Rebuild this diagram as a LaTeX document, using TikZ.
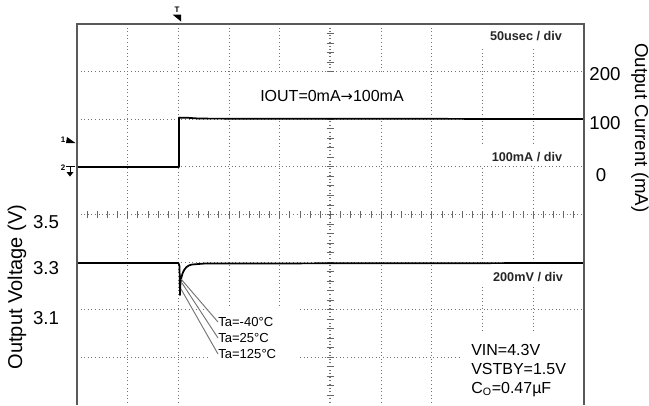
\documentclass[tikz,border=0pt]{standalone}
\usepackage{fontspec}
\setmainfont{Liberation Sans}
\newfontfamily\arrowfont{DejaVu Sans}
\usetikzlibrary{positioning}

\begin{document}
\begin{tikzpicture}[
    x=0.75pt, y=-0.75pt,
    frame/.style={draw=black!65, line width=1.2pt},
    gridline/.style={black!55, line width=0.8pt, dash pattern=on 0.8pt off 1.9pt},
    tickmark/.style={black!60, line width=0.7pt},
    trace/.style={black, line width=1.3pt, line join=round},
    callout/.style={black!55, line width=0.7pt},
    mask/.style={fill=white},
    scalelbl/.style={font=\fontsize{9.5}{11}\selectfont\bfseries, text=black!85, inner sep=0pt},
    axislbl/.style={font=\fontsize{14}{16}\selectfont, inner sep=0pt},
    talbl/.style={font=\fontsize{9.8}{11}\selectfont, anchor=west, inner sep=0pt},
    condlbl/.style={font=\fontsize{12}{14}\selectfont, anchor=base west, inner sep=0pt},
    marker/.style={font=\fontsize{6}{6}\selectfont\bfseries, inner sep=0pt}
  ]
  \useasboundingbox (0,0) rectangle (649,405);

  % grid
  \foreach \i in {1,2,3,4,6,7,8,9}
    \draw[gridline] (77+\i*50.7,24) -- (77+\i*50.7,405);
  \foreach \j in {1,2,3,5,6,7}
    \draw[gridline] (77,24+\j*47.625) -- (584,24+\j*47.625);

  % centre axes with minor ticks
  \draw[gridline] (330,24) -- (330,405);
  \draw[gridline] (77,214.5) -- (584,214.5);
  \foreach \k in {1,...,49}
    \draw[tickmark] (77+\k*10.14,211) -- ++(0,7);
  \foreach \k in {1,...,39}
    \draw[tickmark] (326.5,24+\k*9.525) -- ++(7,0);

  % label backgrounds
  \fill[mask] (468,25) rectangle (583,47);
  \fill[mask] (250,73) rectangle (412,117);
  \fill[mask] (470,145) rectangle (583,165.5);
  \fill[mask] (470,264.5) rectangle (583,285);
  \fill[mask] (460,332) rectangle (583,405);
  \fill[mask] (208,306) rectangle (300,405);

  % traces
  \draw[trace] (77,167) -- (179,167) -- (179,117.6) -- (188,117.8) -- (200,118.6) -- (584,119);
  \draw[trace] (77,263) -- (178.5,263) -- (179.5,266) -- (180,295)
    .. controls (180,276) and (183,266) .. (192,264.5) -- (205,263.5) -- (584,263);

  % frame
  \draw[frame] (77,405) -- (77,24) -- (584,24) -- (584,405);

  % markers
  \node[marker] (trig) at (177,10) {T};
  \fill (172.5,14.5) -- (181,14.5) -- (181,21.5) -- cycle;
  \node[marker] (ch1) at (63,139.5) {1};
  \fill (67,137) -- (75.5,143) -- (66,143) -- cycle;
  \node[marker] (ch2) at (63,168) {2};
  \draw[line width=0.7pt] (66,166) -- (75,166) (70,166) -- (70,172);
  \fill (66.5,172) -- (73.5,172) -- (70,176.5) -- cycle;

  % scale texts
  \node[scalelbl] (tbase) at (526,36) {50usec / div};
  \node[scalelbl] (ibase) at (527,157) {100mA / div};
  \node[scalelbl] (vbase) at (528,277) {200mV / div};
  \node[font=\fontsize{12}{14}\selectfont, inner sep=0pt] (iout) at (332,96)
    {IOUT=0mA{\arrowfont\fontsize{11}{14}\selectfont→}100mA};

  % current axis
  \node[axislbl] (i200) at (605,74) {200};
  \node[axislbl] (i100) at (605,123) {100};
  \node[axislbl] (i0) at (601,175) {0};
  \node[axislbl, rotate=-90] (ititle) at (640,128) {Output Current (mA)};

  % voltage axis
  \node[axislbl] (v35) at (46,222) {3.5};
  \node[axislbl] (v33) at (46,268) {3.3};
  \node[axislbl] (v31) at (46,318) {3.1};
  \node[axislbl, font=\fontsize{15}{17}\selectfont, rotate=90] (vtitle) at (17,287) {Output Voltage (V)};

  % temperature callouts
  \node[talbl] (ta1) at (218,322) {Ta=-40°C};
  \node[talbl] (ta2) at (218,338) {Ta=25°C};
  \node[talbl] (ta3) at (218,354) {Ta=125°C};
  \coordinate (dip1) at (181,279);
  \coordinate (dip2) at (182,283);
  \coordinate (dip3) at (181,289);
  \draw[callout] (dip1) -- (ta1.west);
  \draw[callout] (dip2) -- (ta2.west);
  \draw[callout] (dip3) -- (ta3.west);

  % conditions
  \node[condlbl] (vin) at (471,355) {VIN=4.3V};
  \node[condlbl] (vstby) at (471,374) {VSTBY=1.5V};
  \node[condlbl] (co) at (471,393) {C\textsubscript{O}=0.47µF};
\end{tikzpicture}
\end{document}
